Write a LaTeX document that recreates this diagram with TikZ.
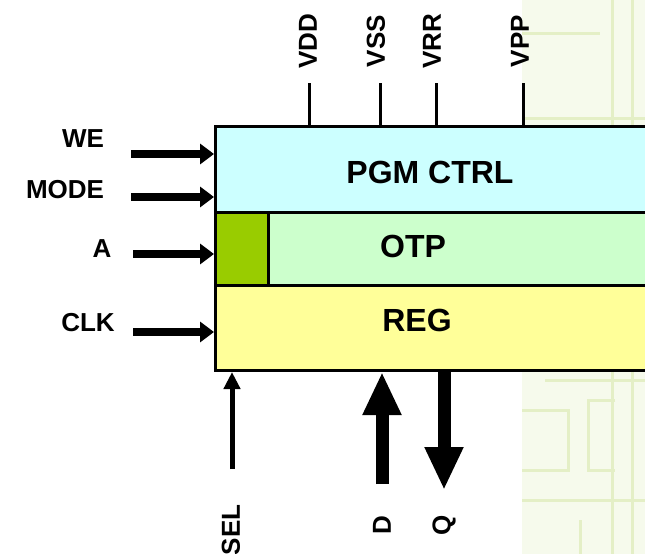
\documentclass[tikz,border=0pt]{standalone}
\usepackage{fontspec}
\setmainfont{Liberation Sans}
\usetikzlibrary{arrows.meta}
\definecolor{pgmc}{HTML}{CCFFFF}
\definecolor{otpc}{HTML}{CCFFCC}
\definecolor{grc}{HTML}{99CC00}
\definecolor{regc}{HTML}{FFFF99}
\definecolor{bgc}{HTML}{F6FAEC}
\definecolor{bgl}{HTML}{E4EFC6}
\begin{document}
\begin{tikzpicture}[x=1pt,y=-1pt,
  blk/.style={draw=black,line width=3pt,inner sep=0pt,anchor=north west},
  boxlbl/.style={font=\bfseries\fontsize{32}{36}\selectfont,inner sep=0pt},
  sig/.style={font=\bfseries\fontsize{26}{30}\selectfont,inner sep=0pt},
  vsig/.style={sig,rotate=90},
  pin/.style={line width=3pt},
  inarrow/.style={line width=8pt,-{Triangle[length=14pt,width=20pt]}},
  selarrow/.style={line width=5pt,-{Triangle[length=17pt,width=16pt]}},
  busarrow/.style={line width=13pt,-{Triangle[length=43pt,width=36pt]}},
  bgline/.style={draw=bgl,line width=3pt}
]
\useasboundingbox (0,0) rectangle (645,554);
\clip (0,0) rectangle (645,554);
% decorative background at right
\fill[bgc] (522,0) rectangle (645,554);
\draw[bgline] (612,0) -- (612,554);
\draw[bgline] (632,0) -- (632,554);
\draw[bgline] (522,33) -- (600,33);
\draw[bgline] (522,118) -- (645,118);
\draw[bgline] (545,380) -- (645,380);
\draw[bgline] (522,410) -- (568,410) -- (568,470) -- (522,470);
\draw[bgline] (615,400) -- (588,400) -- (588,470) -- (615,470);
\draw[bgline] (522,500) -- (645,500);
\draw[bgline] (580,520) -- (580,554);
% blocks
\node[blk,fill=pgmc,minimum width=440pt,minimum height=86pt] (pgm) at (214,125) {};
\node[blk,fill=otpc,minimum width=440pt,minimum height=73pt] (otp) at (214,211) {};
\node[blk,fill=grc,minimum width=53pt,minimum height=73pt] (grn) at (214,211) {};
\node[blk,fill=regc,minimum width=440pt,minimum height=85pt] (reg) at (214,284) {};
\node[boxlbl] (tpgm) at (430,172) {PGM CTRL};
\node[boxlbl] (totp) at (413,246) {OTP};
\node[boxlbl] (treg) at (417,320) {REG};
% supply pins
\coordinate (vdd) at (309,83);
\coordinate (vss) at (380,83);
\coordinate (vrr) at (436,83);
\coordinate (vpp) at (523,83);
\draw[pin] (vdd) -- (vdd |- pgm.north);
\draw[pin] (vss) -- (vss |- pgm.north);
\draw[pin] (vrr) -- (vrr |- pgm.north);
\draw[pin] (vpp) -- (vpp |- pgm.north);
\node[vsig] (lvdd) at (308,41) {VDD};
\node[vsig] (lvss) at (376,41) {VSS};
\node[vsig] (lvrr) at (432,41) {VRR};
\node[vsig] (lvpp) at (520,41) {VPP};
% left inputs
\node[sig] (lwe) at (83,139) {WE};
\node[sig] (lmode) at (65,190) {MODE};
\node[sig] (la) at (102,249) {A};
\node[sig] (lclk) at (88,323) {CLK};
\coordinate (we) at (131,154);
\coordinate (mode) at (131,197);
\coordinate (a) at (133,254);
\coordinate (clk) at (133,332);
\draw[inarrow] (we) -- (we -| pgm.west);
\draw[inarrow] (mode) -- (mode -| pgm.west);
\draw[inarrow] (a) -- (a -| grn.west);
\draw[inarrow] (clk) -- (clk -| reg.west);
% bottom signals
\coordinate (sel) at (232,469);
\coordinate (d) at (382,484);
\coordinate (q) at (444,490);
\draw[selarrow] (sel) -- (sel |- reg.south);
\draw[busarrow] (d) -- (d |- reg.south);
\draw[busarrow] (q |- reg.south) -- (q);
\node[vsig] (lsel) at (231,530) {SEL};
\node[vsig] (ld) at (382,525) {D};
\node[vsig] (lq) at (444,525) {Q};
\end{tikzpicture}
\end{document}
